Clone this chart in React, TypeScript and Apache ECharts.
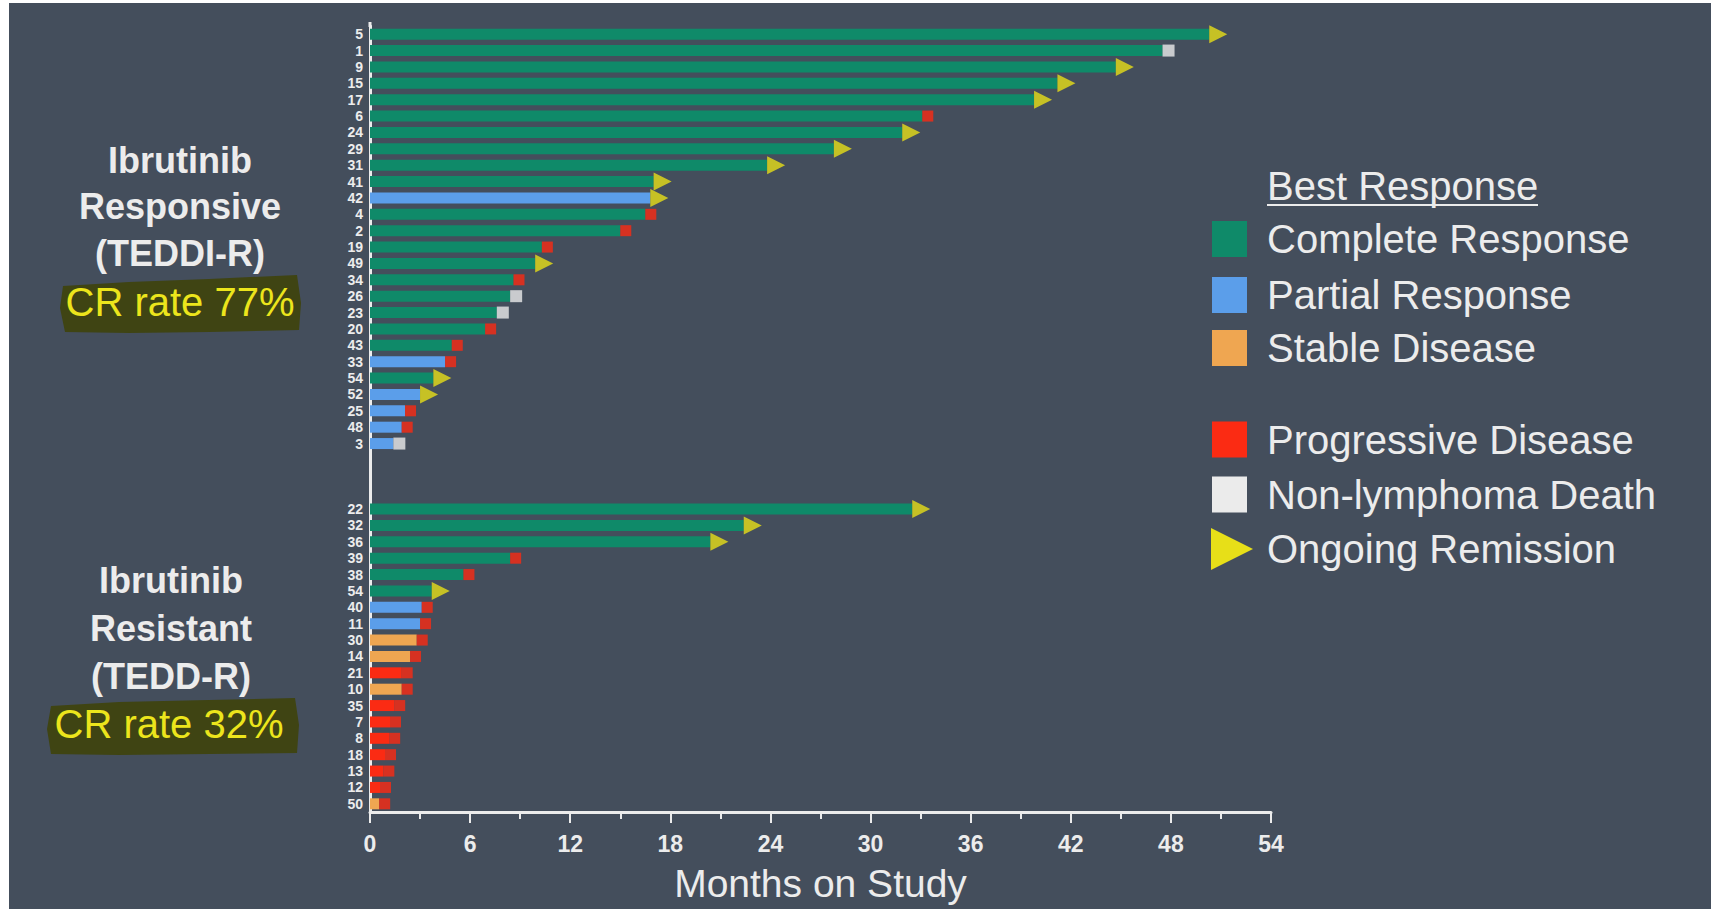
import React, { useEffect, useRef } from "react";
import * as echarts from "echarts";

// ---- Data ----
// Ibrutinib responsive (TEDDI-R)
const topLabels = ["5", "1", "9", "15", "17", "6", "24", "29", "31", "41", "42", "4", "2", "19", "49", "34", "26", "23", "20", "43", "33", "54", "52", "25", "48", "3"];
const topResp = ["CR", "CR", "CR", "CR", "CR", "CR", "CR", "CR", "CR", "CR", "PR", "CR", "CR", "CR", "CR", "CR", "CR", "CR", "CR", "CR", "PR", "CR", "PR", "PR", "PR", "PR"];
const topMonths = [50.3, 47.5, 44.7, 41.2, 39.8, 33.1, 31.9, 27.8, 23.8, 17.0, 16.8, 16.5, 15.0, 10.3, 9.9, 8.6, 8.4, 7.6, 6.9, 4.9, 4.5, 3.8, 3.0, 2.1, 1.9, 1.4];
const topOutcome = ["OR", "ND", "OR", "OR", "OR", "PD", "OR", "OR", "OR", "OR", "OR", "PD", "PD", "PD", "OR", "PD", "ND", "ND", "PD", "PD", "PD", "OR", "OR", "PD", "PD", "ND"];

// Ibrutinib resistant (TEDD-R)
const botLabels = ["22", "32", "36", "39", "38", "54", "40", "11", "30", "14", "21", "10", "35", "7", "8", "18", "13", "12", "50"];
const botResp = ["CR", "CR", "CR", "CR", "CR", "CR", "PR", "PR", "SD", "SD", "PD", "SD", "PD", "PD", "PD", "PD", "PD", "PD", "SD"];
const botMonths = [32.5, 22.4, 20.4, 8.4, 5.6, 3.7, 3.1, 3.0, 2.8, 2.4, 1.9, 1.9, 1.45, 1.2, 1.15, 0.9, 0.8, 0.6, 0.55];
const botOutcome = ["OR", "OR", "OR", "PD", "PD", "OR", "PD", "PD", "PD", "PD", "PD", "PD", "PD", "PD", "PD", "PD", "PD", "PD", "PD"];

const gapRows = 3;
const xTicks = [0, 6, 12, 18, 24, 30, 36, 42, 48, 54];

const legendItems = ["Complete Response", "Partial Response", "Stable Disease", "Progressive Disease", "Non-lymphoma Death", "Ongoing Remission"];

// ---- Styles ----
const BG = "#444e5c";
const WHITE = "#ececec";
const COLORS: Record<string, string> = {
  CR: "#0f8a69",
  PR: "#5b9eea",
  SD: "#efa651",
  PD: "#fb2b13",
  ND: "#ebebeb",
  OR: "#e7df18",
};
const FONT = "'Liberation Sans', Arial, Helvetica, sans-serif";
const NARROW = "'Liberation Sans Narrow', 'Arial Narrow', 'Liberation Sans', sans-serif";

export default function App() {
  const ref = useRef<HTMLDivElement>(null);

  useEffect(() => {
    if (!ref.current) return;
    const chart = echarts.init(ref.current, undefined, { renderer: "svg" });

    const labels = [...topLabels, ...Array(gapRows).fill(""), ...botLabels];
    const resp = [...topResp, ...Array(gapRows).fill(null), ...botResp];
    const months = [...topMonths, ...Array(gapRows).fill(null), ...botMonths];
    const outcome = [...topOutcome, ...Array(gapRows).fill(null), ...botOutcome];

    const barData = months.map((m, i) =>
      m == null ? "-" : { value: m, itemStyle: { color: COLORS[resp[i] as string] } }
    );
    const pts = (kind: string) =>
      months.map((m, i) => (outcome[i] === kind ? [m, i] : null)).filter((d) => d) as number[][];

    const text = (t: string, x: number, y: number, size: number, color: string, bold = false, align = "center") => ({
      type: "text",
      x,
      y,
      z: 10,
      style: {
        text: t,
        fill: color,
        fontSize: size,
        fontWeight: bold ? "bold" : "normal",
        fontFamily: FONT,
        textAlign: align,
        textVerticalAlign: "middle",
      },
    });

    const legendY = [236, 292, 345, 436.5, 491.5, 546];
    const legendColors = [COLORS.CR, COLORS.PR, COLORS.SD, COLORS.PD, COLORS.ND];

    const graphic: any[] = [
      // highlights
      {
        type: "polygon",
        z: 1,
        shape: { points: [[54, 283], [120, 279], [200, 276], [288, 272], [292, 300], [290, 327], [200, 329], [120, 330], [56, 329], [51, 305]] },
        style: { fill: "#3f4413" },
      },
      {
        type: "polygon",
        z: 1,
        shape: { points: [[42, 703], [110, 699], [200, 697], [286, 695], [290, 722], [288, 750], [200, 751], [110, 752], [42, 751], [38, 726]] },
        style: { fill: "#3f4413" },
      },
      // y-axis extension above the grid
      { type: "line", z: 5, shape: { x1: 361, y1: 19, x2: 361, y2: 24 }, style: { stroke: WHITE, lineWidth: 3 } },
      text("Ibrutinib", 171, 157, 36, WHITE, true),
      text("Responsive", 171, 203, 36, WHITE, true),
      text("(TEDDI-R)", 171, 250, 36, WHITE, true),
      text("CR rate 77%", 171, 299, 40, "#ece51c"),
      text("Ibrutinib", 162, 577, 36, WHITE, true),
      text("Resistant", 162, 625, 36, WHITE, true),
      text("(TEDD-R)", 162, 673, 36, WHITE, true),
      text("CR rate 32%", 160, 721, 40, "#ece51c"),
      // legend
      text("Best Response", 1258, 183, 40, WHITE, false, "left"),
      { type: "line", z: 10, shape: { x1: 1258, y1: 202, x2: 1529, y2: 202 }, style: { stroke: WHITE, lineWidth: 2 } },
    ];
    legendItems.forEach((name, i) => {
      graphic.push(text(name, 1258, legendY[i], 40, WHITE, false, "left"));
      if (i < 5) {
        graphic.push({
          type: "rect",
          z: 10,
          shape: { x: 1203, y: legendY[i] - 18, width: 35, height: 36 },
          style: { fill: legendColors[i] },
        });
      } else {
        graphic.push({
          type: "polygon",
          z: 10,
          shape: { points: [[1202, legendY[i] - 21], [1244, legendY[i]], [1202, legendY[i] + 21]] },
          style: { fill: COLORS.OR },
        });
      }
    });

    chart.setOption({
      animation: false,
      backgroundColor: BG,
      grid: { left: 361, right: 440, top: 23, bottom: 97, containLabel: false },
      xAxis: {
        type: "value",
        min: xTicks[0],
        max: xTicks[xTicks.length - 1],
        interval: 6,
        name: "Months on Study",
        nameLocation: "middle",
        nameGap: 52,
        nameTextStyle: { color: WHITE, fontSize: 39, fontFamily: FONT },
        axisLine: { show: true, lineStyle: { color: WHITE, width: 3 } },
        axisTick: { show: true, length: 11, lineStyle: { color: WHITE, width: 2 } },
        minorTick: { show: true, splitNumber: 2, length: 7, lineStyle: { color: WHITE, width: 2 } },
        splitLine: { show: false },
        minorSplitLine: { show: false },
        axisLabel: { color: WHITE, fontSize: 23, fontWeight: "bold", fontFamily: NARROW, margin: 20 },
      },
      yAxis: {
        type: "category",
        inverse: true,
        data: labels,
        axisLine: { show: true, onZero: false, lineStyle: { color: WHITE, width: 3 } },
        axisTick: { show: false },
        splitLine: { show: false },
        axisLabel: {
          interval: 0,
          color: WHITE,
          fontSize: 14,
          lineHeight: 14,
          fontWeight: "bold",
          fontFamily: NARROW,
          margin: 7,
        },
      },
      graphic,
      series: [
        {
          name: "Best Response",
          type: "bar",
          data: barData,
          barWidth: 11,
          z: 2,
        },
        {
          name: "Progressive Disease",
          type: "scatter",
          data: pts("PD"),
          symbol: "rect",
          symbolSize: [11, 11],
          symbolOffset: [5.5, 0],
          itemStyle: { color: COLORS.PD },
          clip: false,
          z: 3,
        },
        {
          name: "Non-lymphoma Death",
          type: "scatter",
          data: pts("ND"),
          symbol: "rect",
          symbolSize: [12, 12],
          symbolOffset: [6, 0],
          itemStyle: { color: COLORS.ND },
          clip: false,
          z: 3,
        },
        {
          name: "Ongoing Remission",
          type: "scatter",
          data: pts("OR"),
          symbol: "triangle",
          symbolRotate: -90,
          symbolSize: [18, 18],
          symbolOffset: [9, 0],
          itemStyle: { color: COLORS.OR },
          clip: false,
          z: 4,
        },
      ],
    });

    return () => chart.dispose();
  }, []);

  return (
    <div
      style={{
        position: "absolute",
        left: 9,
        top: 3,
        width: 1702,
        height: 906,
        background: BG,
      }}
    >
      <div ref={ref} style={{ width: 1702, height: 906 }} />
    </div>
  );
}
